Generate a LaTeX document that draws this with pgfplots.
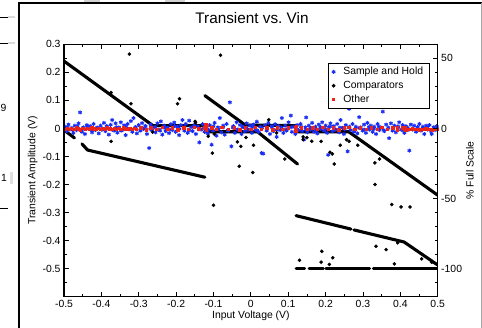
\documentclass[border=0pt]{standalone}
\usepackage{pgfplots}
\pgfplotsset{compat=1.18}
\usepackage{fontspec}
\setmainfont{Liberation Sans}
\definecolor{shblue}{RGB}{25,45,245}
\definecolor{othred}{RGB}{235,35,25}
\newcommand{\lf}{\fontsize{10.4}{12}\selectfont}
\begin{document}
\begin{tikzpicture}
\useasboundingbox (0pt,0pt) rectangle (482pt,328pt);
% window frame and screenshot fragments
\draw[line width=2pt] (19pt,0pt) -- (19pt,324.5pt);
\draw[line width=2pt] (18pt,324.5pt) -- (482pt,324.5pt);
\draw[gray!70,line width=0.8pt] (481.4pt,0pt) -- (481.4pt,324.5pt);
\draw[line width=0.6pt] (0pt,311pt) -- (8pt,311pt);
\draw[gray!30,line width=1.6pt] (8pt,311pt) -- (15pt,311pt);
\draw[line width=0.6pt] (0pt,285pt) -- (8pt,285pt);
\draw[gray!30,line width=1.6pt] (8pt,285pt) -- (15pt,285pt);
\draw[line width=0.6pt] (0pt,120pt) -- (8pt,120pt);
\fill[gray!25] (9.5pt,144pt) rectangle (12.5pt,156pt);
\node[font=\lf,inner sep=0pt] at (3.5pt,220.5pt) {9};
\node[font=\lf,inner sep=0pt] at (4pt,150pt) {1};
\fill[gray!35] (84pt,325.5pt) rectangle (100pt,328pt);
\fill[gray!35] (165pt,325.5pt) rectangle (185pt,328pt);

\begin{axis}[
  at={(64pt,31.3pt)}, anchor=south west,
  scale only axis, width=373.7pt, height=252.4pt,
  xmin=-0.5, xmax=0.5, ymin=-0.6, ymax=0.3,
  xtick={-0.5,-0.4,...,0.51},
  xticklabels={-0.5,-0.4,-0.3,-0.2,-0.1,0,0.1,0.2,0.3,0.4,0.5},
  minor xtick={-0.45,-0.35,...,0.46},
  ytick={-0.5,-0.4,...,0.31},
  yticklabels={-0.5,-0.4,-0.3,-0.2,-0.1,0,0.1,0.2,0.3},
  minor ytick={-0.55,-0.45,...,0.26},
  ytick pos=left, xtick pos=both,
  tick align=inside,
  major tick length=5pt, minor tick length=2.8pt,
  every tick/.style={black,line width=0.8pt},
  axis line style={line width=1.2pt},
  ticklabel style={font=\lf},
  /pgf/number format/assume math mode=true,
  title={Transient vs.\ Vin},
  title style={at={(axis description cs:0.503,1.082)},anchor=center,font=\fontsize{15.3}{18}\selectfont},
  xlabel={Input Voltage (V)},
  every axis x label/.style={at={(axis description cs:0.5,-0.0765)},anchor=center,font=\lf},
  ylabel={Transient Amplitude (V)},
  every axis y label/.style={at={(axis description cs:-0.0838,0.5)},rotate=90,anchor=center,font=\lf},
  legend style={at={(axis description cs:0.978,0.926)},anchor=north east,
    draw=black,line width=0.7pt,font=\lf,inner xsep=4pt,inner ysep=2pt,
    row sep=1pt,column sep=6pt,fill=white},
  legend cell align=left,
  clip=true,
]
% dense comparator traces (drawn as continuous dotted bands)
\addplot[black,line width=3.1pt,line cap=round,forget plot] coordinates {(-0.5,0.240) (-0.262,0.010) (-0.122,0.010)};
\addplot[black,line width=3.1pt,line cap=round,forget plot] coordinates {(-0.5,-0.006) (-0.472,-0.034)};
\addplot[black,line width=3.1pt,line cap=round,forget plot] coordinates {(-0.452,-0.055) (-0.437,-0.077) (-0.123,-0.174)};
\addplot[black,line width=3.1pt,line cap=round,forget plot] coordinates {(-0.123,0.117) (-0.015,0.012) (0.120,0.010)};
\addplot[black,line width=3.1pt,line cap=round,forget plot] coordinates {(-0.122,-0.012) (0.018,-0.012) (0.125,-0.127)};
\addplot[black,line width=3.1pt,line cap=round,forget plot] coordinates {(0.120,-0.012) (0.262,-0.012) (0.5,-0.238)};
\addplot[black,line width=3.1pt,line cap=round,forget plot] coordinates {(0.121,-0.311) (0.268,-0.359)};
\addplot[black,line width=3.1pt,line cap=round,forget plot] coordinates {(0.276,-0.362) (0.410,-0.405) (0.5,-0.487)};
\addplot[black,line width=3.1pt,line cap=round,forget plot] coordinates {(0.121,-0.5) (0.144,-0.5)};
\addplot[black,line width=3.1pt,line cap=round,forget plot] coordinates {(0.156,-0.5) (0.194,-0.5)};
\addplot[black,line width=3.1pt,line cap=round,forget plot] coordinates {(0.201,-0.5) (0.318,-0.5)};
\addplot[black,line width=3.1pt,line cap=round,forget plot] coordinates {(0.328,-0.5) (0.5,-0.5)};

% Sample and Hold
\addplot[only marks,mark=asterisk,mark size=2pt,shblue,line width=1pt] coordinates {
(-0.497,0.006) (-0.493,-0.010) (-0.488,0.014) (-0.484,-0.004) (-0.479,0.002) (-0.475,-0.016) (-0.471,0.010) (-0.466,-0.006) (-0.461,0.018) (-0.457,0.057)
(-0.452,-0.012) (-0.448,0.004) (-0.444,-0.020) (-0.439,0.012) (-0.434,-0.002) (-0.430,0.008) (-0.425,-0.014) (-0.421,0.016) (-0.416,-0.006) (-0.411,0.003)
(-0.407,-0.018) (-0.402,0.010) (-0.398,-0.004) (-0.393,0.020) (-0.389,-0.010) (-0.384,0.006) (-0.380,-0.022) (-0.375,0.013) (-0.371,0.030) (-0.366,-0.008)
(-0.362,0.018) (-0.357,-0.015) (-0.353,0.004) (-0.348,0.022) (-0.344,-0.006) (-0.339,0.011) (-0.335,-0.024) (-0.330,0.016) (-0.326,-0.003) (-0.321,0.026)
(-0.317,-0.012) (-0.314,0.037) (-0.309,0.005) (-0.305,-0.018) (-0.300,0.012) (-0.296,-0.008) (-0.291,0.019) (-0.287,-0.002) (-0.282,0.009) (-0.278,-0.020)
(-0.272,-0.070) (-0.268,0.014) (-0.264,-0.006) (-0.259,0.004) (-0.255,-0.014) (-0.250,0.018) (-0.246,-0.004) (-0.241,0.025) (-0.237,-0.022) (-0.232,0.010)
(-0.228,-0.010) (-0.223,0.003) (-0.219,-0.017) (-0.214,0.015) (-0.210,-0.006) (-0.205,0.021) (-0.201,-0.012) (-0.196,0.006) (-0.192,-0.024) (-0.187,0.012)
(-0.183,0.030) (-0.178,-0.008) (-0.174,0.016) (-0.169,-0.016) (-0.165,0.028) (-0.160,0.004) (-0.156,-0.010) (-0.151,0.013) (-0.147,-0.020) (-0.142,0.007)
(-0.138,-0.050) (-0.133,-0.004) (-0.129,0.015) (-0.124,-0.012) (-0.119,0.006) (-0.115,-0.018) (-0.110,0.012) (-0.105,-0.058) (-0.101,-0.008) (-0.097,0.020)
(-0.092,-0.026) (-0.088,0.004) (-0.083,0.037) (-0.079,-0.014) (-0.074,0.010) (-0.070,-0.022) (-0.065,0.016) (-0.061,-0.006) (-0.056,0.093) (-0.052,-0.064)
(-0.047,0.008) (-0.043,-0.016) (-0.038,0.022) (-0.034,-0.004) (-0.029,0.012) (-0.025,-0.020) (-0.020,0.005) (-0.016,-0.010) (-0.011,0.018) (-0.007,-0.006)
(-0.002,0.010) (0.003,-0.016) (0.007,0.014) (0.012,-0.004) (0.016,0.024) (0.021,-0.012) (0.025,0.006) (0.029,-0.088) (0.033,-0.090) (0.038,0.012)
(0.042,-0.008) (0.047,0.020) (0.051,-0.020) (0.056,0.004) (0.060,-0.010) (0.065,0.015) (0.069,-0.030) (0.074,0.008) (0.078,-0.006) (0.083,0.037)
(0.087,-0.016) (0.092,0.010) (0.096,-0.004) (0.101,0.022) (0.107,0.046) (0.110,-0.012) (0.115,0.006) (0.119,-0.020) (0.124,0.012) (0.128,-0.006)
(0.133,0.016) (0.137,-0.010) (0.142,-0.040) (0.146,0.004) (0.148,0.039) (0.151,-0.014) (0.155,0.010) (0.160,-0.004) (0.164,0.020) (0.169,-0.012)
(0.173,0.006) (0.178,-0.018) (0.182,0.014) (0.187,-0.002) (0.191,0.022) (0.196,-0.008) (0.200,0.010) (0.204,-0.016) (0.207,-0.094) (0.209,0.004)
(0.213,0.018) (0.218,-0.010) (0.222,0.008) (0.227,-0.004) (0.231,0.016) (0.236,-0.014) (0.240,0.030) (0.245,0.002) (0.249,-0.020) (0.254,0.012)
(0.259,-0.082) (0.263,0.070) (0.267,-0.006) (0.272,0.016) (0.276,-0.012) (0.281,0.006) (0.285,-0.018) (0.290,0.040) (0.294,0.004) (0.299,-0.008)
(0.303,0.014) (0.308,-0.016) (0.312,0.020) (0.317,-0.004) (0.321,0.010) (0.326,-0.012) (0.330,0.006) (0.335,-0.020) (0.339,0.016) (0.344,-0.006)
(0.348,0.004) (0.353,0.060) (0.357,-0.010) (0.362,0.014) (0.366,-0.002) (0.370,-0.035) (0.375,0.018) (0.379,-0.008) (0.384,0.010) (0.388,-0.014)
(0.393,0.006) (0.397,0.022) (0.402,-0.004) (0.406,0.012) (0.411,-0.016) (0.415,0.008) (0.420,-0.006) (0.424,-0.079) (0.428,0.014) (0.433,-0.002)
(0.437,0.010) (0.442,-0.012) (0.446,0.004) (0.451,0.016) (0.455,-0.008) (0.460,0.006) (0.464,-0.020) (0.469,0.010) (0.473,-0.004) (0.478,0.012)
(0.482,-0.010) (0.484,-0.020) (0.489,0.004) (0.493,-0.006) (0.497,0.008)
(-0.490,0.003) (-0.477,-0.005) (-0.464,0.007) (-0.451,-0.002) (-0.438,0.005) (-0.425,-0.007) (-0.412,0.002) (-0.399,-0.004) (-0.386,0.008) (-0.373,-0.003)
(-0.360,0.004) (-0.347,-0.008) (-0.334,0.006) (-0.321,-0.002) (-0.308,0.003) (-0.295,-0.006) (-0.282,0.007) (-0.269,-0.003) (-0.256,0.005) (-0.243,-0.008)
(-0.230,0.002) (-0.217,-0.004) (-0.204,0.008) (-0.191,-0.002) (-0.178,0.004) (-0.165,-0.007) (-0.152,0.006) (-0.139,-0.003) (-0.126,0.002) (-0.113,-0.005)
(-0.100,0.007) (-0.087,-0.002) (-0.074,0.004) (-0.061,-0.008) (-0.048,0.003) (-0.035,-0.004) (-0.022,0.006) (-0.009,-0.002) (0.004,0.005) (0.017,-0.007)
(0.030,0.002) (0.043,-0.003) (0.056,0.008) (0.069,-0.005) (0.082,0.003) (0.095,-0.008) (0.108,0.004) (0.121,-0.002) (0.134,0.006) (0.147,-0.004)
(0.160,0.002) (0.173,-0.007) (0.186,0.005) (0.199,-0.002) (0.212,0.007) (0.225,-0.005) (0.238,0.003) (0.251,-0.003) (0.264,0.006) (0.277,-0.008)
(0.290,0.002) (0.303,-0.004) (0.316,0.005) (0.329,-0.002) (0.342,0.007) (0.355,-0.006) (0.368,0.003) (0.381,-0.003) (0.394,0.006) (0.407,-0.007)
(0.420,0.002) (0.433,-0.004) (0.446,0.005) (0.459,-0.002) (0.472,0.004) (0.485,-0.006) (0.498,0.002)
};
\addlegendentry{Sample and Hold}

% Comparators (isolated points)
\addplot[only marks,mark=*,mark size=1.6pt,black] coordinates {
(-0.325,0.265) (-0.081,0.261) (-0.191,0.106) (-0.196,0.088) (-0.321,0.088) (-0.374,0.128) (-0.374,-0.046)
(-0.149,0.025) (-0.114,-0.028) (-0.103,-0.088) (-0.100,-0.274) (-0.036,-0.048) (-0.027,-0.064) (-0.031,-0.135)
(0.005,-0.157) (0.007,-0.060) (-0.013,-0.032) (0.048,0.031) (0.069,-0.016) (0.091,-0.109) (0.140,-0.040)
(0.163,-0.046) (0.188,-0.046) (0.212,-0.085) (0.218,-0.091) (0.223,-0.127) (0.239,-0.060) (0.256,-0.040)
(0.263,-0.046) (0.286,-0.060) (0.332,-0.123) (0.344,-0.109) (0.332,-0.200) (0.377,-0.271) (0.402,-0.280)
(0.426,-0.280) (0.335,-0.420) (0.362,-0.432) (0.393,-0.408) (0.384,-0.483) (0.190,-0.438) (0.219,-0.461)
(0.188,-0.477) (0.210,-0.485) (0.130,-0.470) (0.457,-0.465) (0.484,-0.477) (-0.263,-0.013)
(-0.148,0.020) (-0.098,-0.020) (0.140,-0.030) (0.150,-0.033)
};
\addlegendentry{Comparators}

% Other
\addplot[only marks,mark=square*,mark size=1.2pt,othred] coordinates {
(-0.498,-0.002) (-0.492,0.001) (-0.486,-0.003) (-0.480,0.000) (-0.474,-0.002) (-0.468,0.002) (-0.462,-0.001) (-0.456,-0.004) (-0.450,0.001) (-0.444,-0.002)
(-0.438,0.000) (-0.432,-0.003) (-0.426,0.002) (-0.420,-0.001) (-0.414,-0.003) (-0.408,0.001) (-0.402,-0.002) (-0.396,0.000) (-0.390,-0.003) (-0.384,0.002)
(-0.378,-0.001) (-0.372,-0.002) (-0.366,0.001) (-0.360,-0.003) (-0.354,0.000) (-0.348,-0.002) (-0.342,0.002) (-0.336,-0.001) (-0.330,-0.003) (-0.324,0.001)
(-0.318,-0.002) (-0.312,0.000) (-0.306,-0.002)
(-0.295,0.002) (-0.280,-0.004) (-0.268,0.003) (-0.252,-0.002) (-0.238,0.004) (-0.222,-0.003) (-0.210,0.002) (-0.196,-0.004) (-0.180,0.003) (-0.168,-0.002)
(-0.152,0.004) (-0.140,-0.001) (-0.125,0.002) (-0.122,0.008) (-0.121,0.014) (-0.120,-0.004) (-0.119,0.005) (-0.118,0.011) (-0.105,0.003) (-0.092,-0.003)
(-0.078,0.004) (-0.060,-0.002) (-0.045,0.003) (-0.030,-0.004) (-0.015,0.002) (0.000,-0.003) (0.012,0.004) (0.028,-0.002) (0.042,0.003) (0.058,-0.004)
(0.070,0.002) (0.085,-0.003) (0.100,0.003) (0.118,-0.004) (0.119,0.004) (0.120,-0.010) (0.121,0.008) (0.122,-0.006) (0.135,0.002) (0.150,-0.003)
(0.165,0.003) (0.178,-0.002) (0.192,0.004) (0.207,-0.003) (0.220,0.002) (0.235,-0.004) (0.250,0.003) (0.262,0.005) (0.278,-0.002) (0.292,0.003)
(0.308,-0.003) (0.322,0.002) (0.338,-0.002) (0.350,0.004) (0.365,-0.003) (0.380,0.002) (0.391,0.004) (0.392,-0.004) (0.405,0.003) (0.410,-0.002)
(0.412,0.005) (0.414,-0.005)
(0.420,-0.002) (0.426,-0.003) (0.432,-0.001) (0.438,-0.003) (0.444,-0.002) (0.450,-0.004) (0.456,-0.002) (0.462,-0.003) (0.468,-0.001) (0.474,-0.003)
(0.480,-0.002) (0.486,-0.004) (0.492,-0.002) (0.498,-0.003)
};
\addlegendentry{Other}
\end{axis}

% right-hand % Full Scale axis
\begin{axis}[
  at={(64pt,31.3pt)}, anchor=south west,
  scale only axis, width=373.7pt, height=252.4pt,
  xmin=-0.5, xmax=0.5, ymin=-120, ymax=60,
  hide x axis,
  ytick={-100,-50,0,50},
  minor ytick={-120,-110,...,60},
  ytick pos=right, yticklabel pos=right,
  tick align=inside,
  major tick length=5pt, minor tick length=2.8pt,
  every tick/.style={black,line width=0.8pt},
  axis line style={line width=1.2pt},
  ticklabel style={font=\lf},
  /pgf/number format/assume math mode=true,
  ylabel={\% Full Scale},
  every axis y label/.style={at={(axis description cs:1.0864,0.5)},rotate=90,anchor=center,font=\lf},
]
\addplot[draw=none,forget plot] coordinates {(0,0)};
\end{axis}
\end{tikzpicture}
\end{document}
